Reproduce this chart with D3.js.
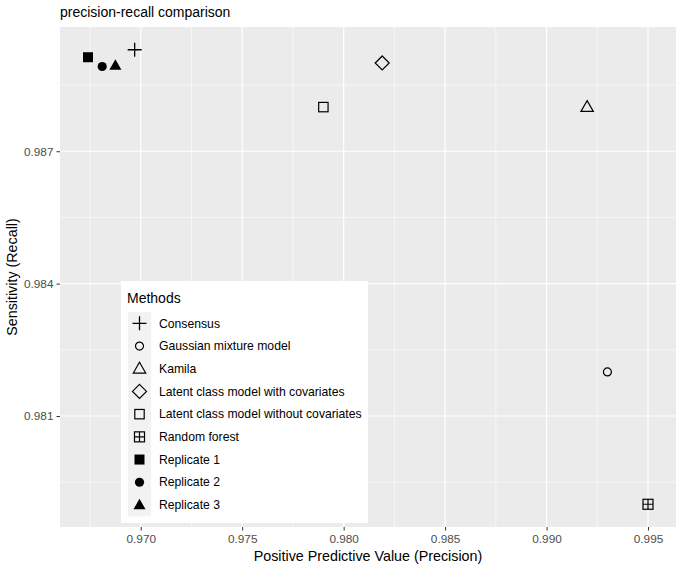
<!DOCTYPE html>
<html><head><meta charset="utf-8">
<script src="https://cdn.jsdelivr.net/npm/d3@7"></script>
<style>body{margin:0;background:#fff;} text{font-family:"Liberation Sans",Arial,sans-serif;}</style>
</head><body>
<svg id="c" width="678" height="568"></svg>
<script>
const methods = ["Consensus","Gaussian mixture model","Kamila","Latent class model with covariates","Latent class model without covariates","Random forest","Replicate 1","Replicate 2","Replicate 3"];
const precision = [0.9697, 0.9930, 0.9920, 0.9819, 0.9790, 0.9950, 0.9674, 0.9681, 0.96875];
const recall    = [0.9893, 0.9820, 0.9880, 0.9890, 0.9880, 0.9790, 0.98913, 0.98892, 0.98894];
const xTicks = [0.970,0.975,0.980,0.985,0.990,0.995];
const yTicks = [0.981,0.984,0.987];
const shapes = ["plus","circleOpen","triangleOpen","diamondOpen","squareOpen","squarePlus","square","circle","triangle"];

const svg = d3.select("#c");
const m = {l:60, r:2, t:27, b:41};
const W = 678, H = 568;
function expand(ext){const d=(ext[1]-ext[0])*0.05;return [ext[0]-d, ext[1]+d];}
const x = d3.scaleLinear().domain(expand(d3.extent(precision))).range([m.l, W-m.r]);
const y = d3.scaleLinear().domain(expand(d3.extent(recall))).range([H-m.b, m.t]);

svg.append("rect").attr("x",m.l).attr("y",m.t).attr("width",W-m.r-m.l).attr("height",H-m.b-m.t).attr("fill","#ebebeb");
const g = svg.append("g");
const xMinor = xTicks.map(t=>t-0.0025).concat([xTicks[xTicks.length-1]+0.0025]).filter(v=>v>=x.domain()[0]&&v<=x.domain()[1]);
const yMinor = [yTicks[0]-0.0015].concat(yTicks.map(t=>t+0.0015)).filter(v=>v>=y.domain()[0]&&v<=y.domain()[1]);
g.selectAll(".xm").data(xMinor).join("line").attr("x1",d=>x(d)).attr("x2",d=>x(d)).attr("y1",m.t).attr("y2",H-m.b).attr("stroke","#fff").attr("stroke-width",0.6);
g.selectAll(".ym").data(yMinor).join("line").attr("y1",d=>y(d)).attr("y2",d=>y(d)).attr("x1",m.l).attr("x2",W-m.r).attr("stroke","#fff").attr("stroke-width",0.6);
g.selectAll(".xM").data(xTicks).join("line").attr("x1",d=>x(d)).attr("x2",d=>x(d)).attr("y1",m.t).attr("y2",H-m.b).attr("stroke","#fff").attr("stroke-width",1.2);
g.selectAll(".yM").data(yTicks).join("line").attr("y1",d=>y(d)).attr("y2",d=>y(d)).attr("x1",m.l).attr("x2",W-m.r).attr("stroke","#fff").attr("stroke-width",1.2);

const xAxis = svg.append("g").attr("transform",`translate(0,${H-m.b})`).call(d3.axisBottom(x).tickValues(xTicks).tickFormat(d3.format(".3f")).tickSize(3.5).tickPadding(4.5));
const yAxis = svg.append("g").attr("transform",`translate(${m.l},0)`).call(d3.axisLeft(y).tickValues(yTicks).tickFormat(d3.format(".3f")).tickSize(3.5).tickPadding(3));
[xAxis,yAxis].forEach(a=>{a.select(".domain").remove();a.selectAll("line").attr("stroke","#333").attr("stroke-width",1);
  a.selectAll("text").attr("fill","#4d4d4d").style("font-size","11.8px").style("font-family","'Liberation Sans',Arial,sans-serif");});

svg.append("text").attr("x",m.l).attr("y",17).attr("font-size","14px").attr("fill","#000").text("precision-recall comparison");
svg.append("text").attr("x",(m.l+W-m.r)/2).attr("y",561).attr("text-anchor","middle").attr("font-size","14.3px").text("Positive Predictive Value (Precision)");
svg.append("text").attr("transform",`translate(17,${(m.t+H-m.b)/2}) rotate(-90)`).attr("text-anchor","middle").attr("font-size","14.3px").text("Sensitivity (Recall)");

function drawShape(sel, s){
  const sw=1.2;
  if(s==="plus"){ sel.append("path").attr("d","M-7,0H7M0,-7V7").attr("stroke","#000").attr("stroke-width",1.3).attr("fill","none"); }
  else if(s==="circleOpen"){ sel.append("circle").attr("r",4).attr("fill","none").attr("stroke","#000").attr("stroke-width",sw); }
  else if(s==="triangleOpen"){ sel.append("path").attr("d","M0,-6.5L6.2,4.3L-6.2,4.3Z").attr("fill","none").attr("stroke","#000").attr("stroke-width",sw); }
  else if(s==="diamondOpen"){ sel.append("path").attr("d","M0,-7L7,0L0,7L-7,0Z").attr("fill","none").attr("stroke","#000").attr("stroke-width",sw); }
  else if(s==="squareOpen"){ sel.append("rect").attr("x",-4.7).attr("y",-4.7).attr("width",9.4).attr("height",9.4).attr("fill","none").attr("stroke","#000").attr("stroke-width",sw); }
  else if(s==="squarePlus"){ sel.append("rect").attr("x",-5).attr("y",-5).attr("width",10).attr("height",10).attr("fill","none").attr("stroke","#000").attr("stroke-width",sw);
    sel.append("path").attr("d","M-5,0H5M0,-5V5").attr("stroke","#000").attr("stroke-width",sw); }
  else if(s==="square"){ sel.append("rect").attr("x",-5).attr("y",-5).attr("width",10).attr("height",10).attr("fill","#000"); }
  else if(s==="circle"){ sel.append("circle").attr("r",4.6).attr("fill","#000"); }
  else if(s==="triangle"){ sel.append("path").attr("d","M0,-6.3L6,4.2L-6,4.2Z").attr("fill","#000"); }
}
methods.forEach((mth,i)=>{
  const p = svg.append("g").attr("transform",`translate(${x(precision[i])},${y(recall[i])})`);
  drawShape(p, shapes[i]);
});

const lg = svg.append("g");
lg.append("rect").attr("x",121).attr("y",281).attr("width",247).attr("height",242).attr("fill","#fff");
lg.append("text").attr("x",127).attr("y",303).attr("font-size","14px").text("Methods");
const rowH = 22.7, row0 = 312;
lg.append("rect").attr("x",128).attr("y",row0).attr("width",23).attr("height",rowH*methods.length).attr("fill","#f2f2f2");
methods.forEach((mth,i)=>{
  const cy = row0 + rowH*(i+0.5);
  const k = lg.append("g").attr("transform",`translate(139.5,${cy})`);
  drawShape(k, shapes[i]);
  lg.append("text").attr("x",159).attr("y",cy+4.2).attr("font-size","12.2px").text(mth);
});
</script>
</body></html>
